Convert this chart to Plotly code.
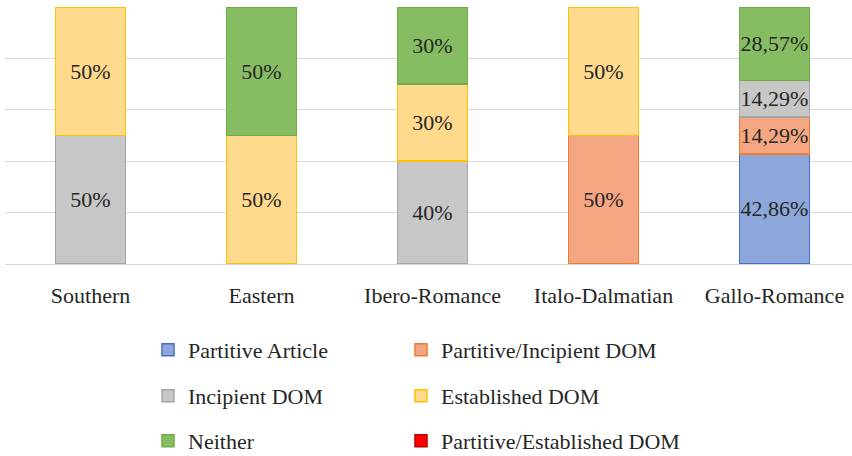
import plotly.graph_objects as go

categories = ["Southern", "Eastern", "Ibero-Romance", "Italo-Dalmatian", "Gallo-Romance"]

series_names = ["Partitive Article", "Partitive/Incipient DOM", "Incipient DOM",
                "Established DOM", "Neither", "Partitive/Established DOM"]

partitive_article = [0, 0, 0, 0, 42.86]
partitive_incipient = [0, 0, 0, 50, 14.29]
incipient_dom = [50, 0, 40, 0, 14.29]
established_dom = [50, 50, 30, 50, 0]
neither = [0, 50, 30, 0, 28.57]
partitive_established = [0, 0, 0, 0, 0]

values = [partitive_article, partitive_incipient, incipient_dom,
          established_dom, neither, partitive_established]

fills = ["#8DA7DB", "#F4A683", "#C7C7C7", "#FFD98C", "#86BD63", "#FF0000"]
borders = ["#4472C4", "#ED7D31", "#A5A5A5", "#FFC000", "#70AD47", "#C00000"]

FONT = "'Liberation Serif', Tinos, 'Times New Roman', serif"

W, H = 852, 456
ML, MR, MT, MB = 5, 0, 7, 192
PW, PH = W - ML - MR, H - MT - MB

leg_px = [(148, 350), (401, 350), (148, 396), (401, 396), (148, 441), (401, 441)]

fig = go.Figure()
for i, (name, vals) in enumerate(zip(series_names, values)):
    ys = [v if v > 0 else None for v in vals]
    txt = [(f"{v:g}%".replace(".", ",") if v > 0 else "") for v in vals]
    fig.add_trace(go.Bar(
        x=categories, y=ys, name=name,
        text=txt, textposition="inside", textangle=0,
        constraintext="none", insidetextanchor="middle",
        textfont=dict(family=FONT, size=22, color="#262626"),
        marker=dict(color=fills[i], line=dict(color=borders[i], width=1.5)),
        legend="legend" if i == 0 else f"legend{i+1}",
        hoverinfo="skip",
    ))

legends = {}
for i, (px, py) in enumerate(leg_px):
    key = "legend" if i == 0 else f"legend{i+1}"
    legends[key] = dict(
        x=(px - ML) / PW, y=(MT + PH - py) / PH,
        xanchor="left", yanchor="middle", orientation="v",
        bgcolor="rgba(0,0,0,0)",
        font=dict(family=FONT, size=22, color="#262626"),
    )

fig.update_layout(
    width=W, height=H,
    margin=dict(l=ML, r=MR, t=MT, b=MB, autoexpand=False),
    barmode="stack", bargap=0.59,
    plot_bgcolor="white", paper_bgcolor="white",
    font=dict(family=FONT, size=22, color="#262626"),
    xaxis=dict(range=[-0.5, -0.5 + PW / 171.0], showgrid=False, ticks="",
               tickfont=dict(family=FONT, size=22, color="#262626"),
               showline=False, zeroline=False, ticklabelstandoff=16),
    yaxis=dict(range=[0, 100], dtick=20, showgrid=True, gridcolor="#D9D9D9",
               gridwidth=1.3, showticklabels=False, zeroline=True,
               zerolinecolor="#D9D9D9", zerolinewidth=1.3, showline=False),
    showlegend=True,
    **legends,
)

fig.write_html("out.html", config={"displayModeBar": False},
               post_script="document.body.style.margin='0';")
